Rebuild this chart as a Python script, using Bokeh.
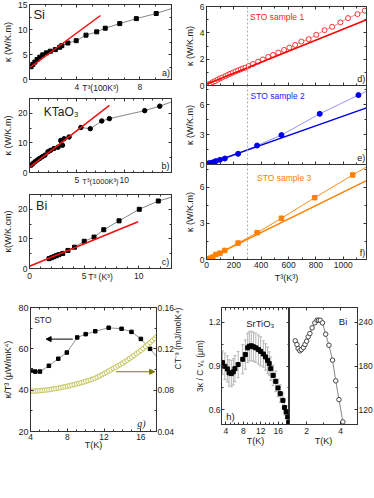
import math
from bokeh.plotting import figure
from bokeh.layouts import row, column
from bokeh.models import (Range1d, LinearAxis, FixedTicker, Label, Span, Arrow,
                          NormalHead, ColumnDataSource, Whisker, TeeHead, CustomLabelingPolicy)
from bokeh.embed import file_html
from bokeh.resources import INLINE

FONT = "Liberation Sans"

# ---------------- data ----------------
si_T3 = [1.10, 1.21, 1.34, 1.48, 1.65, 1.84, 2.07, 2.32, 2.64, 2.91, 3.05, 3.43, 3.96, 4.58, 5.26, 5.80, 6.72, 7.77, 9.03, 10.6]
si_kappa = [2.56, 3.02, 3.48, 4.00, 4.47, 4.93, 5.33, 5.66, 5.98, 6.45, 6.77, 7.30, 7.76, 8.87, 9.53, 10.26, 11.18, 12.17, 13.20, 14.8]
si_fit_x = [0.95, 5.5]
si_fit_y = [2.2, 12.8]

kto_T3 = [0.18, 0.35, 0.57, 0.82, 1.06, 1.35, 1.63, 1.95, 2.23, 2.59, 3.01, 3.30, 3.48, 3.65, 4.18, 5.43, 6.42, 7.63, 8.44, 12.17, 13.76, 16.5]
kto_kappa = [2.47, 3.0, 3.6, 4.2, 4.74, 5.3, 5.85, 7.0, 7.5, 8.1, 8.55, 10.8, 9.2, 11.4, 12.0, 15.2, 14.8, 17.4, 18.2, 20.9, 22.4, 25.6]
kto_fit_x = [0.07, 8.44]
kto_fit_y = [1.9, 22.7]

bi_T3 = [1.79, 2.03, 2.24, 2.45, 2.69, 3.04, 3.52, 4.12, 5.01, 5.91, 6.80, 8.20, 10.05, 11.79, 13.5]
bi_kappa = [3.33, 3.67, 4.0, 4.33, 4.67, 5.1, 6.1, 7.2, 9.2, 10.6, 13.1, 16.1, 20.0, 22.8, 24.6]
bi_fit_x = [0.0, 9.94]
bi_fit_y = [0.78, 15.8]

sto1_T3 = [11, 30, 46, 62, 81, 99, 115, 139, 157, 173, 192, 212, 231, 250, 266, 285, 308, 340, 377, 412, 451, 486, 525, 567, 606, 648, 694, 747, 803, 863, 919, 979, 1035, 1104, 1157]
sto1_kappa = [0.08, 0.15, 0.26, 0.33, 0.44, 0.54, 0.61, 0.72, 0.82, 0.89, 0.97, 1.07, 1.15, 1.22, 1.30, 1.35, 1.48, 1.63, 1.81, 1.98, 2.17, 2.32, 2.50, 2.70, 2.88, 3.08, 3.34, 3.52, 3.85, 4.20, 4.46, 4.79, 5.12, 5.42, 5.68]
sto1_fit_x = [0, 1170]
sto1_fit_y = [0.1, 5.0]

sto2_T3 = [11, 23, 39, 53, 69, 99, 134, 231, 370, 548, 828, 1111, 1200]
sto2_kappa = [0.10, 0.14, 0.17, 0.24, 0.34, 0.47, 0.60, 1.07, 1.90, 2.94, 5.07, 6.94, 7.53]
sto2_fit_x = [0, 1170]
sto2_fit_y = [0.0, 5.67]

sto3_T3 = [11, 28, 46, 69, 99, 134, 231, 370, 548, 791, 1069, 1200]
sto3_kappa = [0.06, 0.11, 0.20, 0.42, 0.53, 0.75, 1.37, 2.23, 3.43, 5.14, 7.03, 7.9]
sto3_fit_x = [0, 1170]
sto3_fit_y = [0.0, 6.56]

g_T = [4.07, 4.52, 5.03, 6.0, 7.02, 7.95, 9.08, 10.0, 11.04, 12.5, 13.9, 14.98, 16.0, 17.0, 18.2]
g_kT3 = [49.5, 49.0, 49.0, 51.8, 55.2, 58.2, 65.5, 67.1, 68.5, 70.2, 69.7, 68.2, 64.8, 60.0, 53.7]

g_T2 = [4.00, 4.25, 4.50, 4.75, 5.00, 5.25, 5.50, 5.75, 6.00, 6.25, 6.50, 6.75, 7.00, 7.25,
        7.50, 7.75, 8.00, 8.25, 8.50, 8.75, 9.00, 9.25, 9.50, 9.75, 10.00, 10.25, 10.50, 10.75,
        11.00, 11.25, 11.50, 11.75, 12.00, 12.25, 12.50, 12.75, 13.00, 13.25, 13.50, 13.75,
        14.00, 14.25, 14.50, 14.75, 15.00, 15.25, 15.50, 15.75, 16.00, 16.25, 16.50, 16.75,
        17.00, 17.25, 17.50, 17.75]
g_CT3 = [0.0790, 0.0791, 0.0792, 0.0794, 0.0795, 0.0797, 0.0800, 0.0802, 0.0805, 0.0809,
         0.0812, 0.0816, 0.0820, 0.0824, 0.0829, 0.0833, 0.0838, 0.0843, 0.0849, 0.0854,
         0.0860, 0.0866, 0.0872, 0.0878, 0.0885, 0.0892, 0.0899, 0.0907, 0.0915, 0.0925,
         0.0936, 0.0948, 0.0960, 0.0972, 0.0985, 0.0997, 0.1010, 0.1022, 0.1035, 0.1047,
         0.1060, 0.1075, 0.1090, 0.1105, 0.1120, 0.1136, 0.1152, 0.1168, 0.1185, 0.1203,
         0.1222, 0.1241, 0.1260, 0.1280, 0.1300, 0.1320]

h_T = [3.22, 3.76, 4.35, 4.73, 5.25, 5.70, 6.08, 6.82, 7.87, 8.47, 9.00, 9.38, 9.83, 10.35, 10.87, 11.47,
       11.99, 12.60, 13.10, 13.56, 13.94, 14.30, 14.84, 15.44, 15.96, 16.48, 17.09, 17.47, 17.83, 18.20, 18.40]
h_val = [0.923, 0.898, 0.880, 0.853, 0.848, 0.860, 0.882, 0.910, 0.946, 0.978, 1.024, 1.035, 1.038, 1.031,
         1.024, 1.012, 1.000, 0.982, 0.962, 0.939, 0.917, 0.882, 0.836, 0.795, 0.750, 0.711, 0.665,
         0.616, 0.586, 0.551, 0.513]
h_err = [0.08, 0.09, 0.09, 0.09, 0.09, 0.09, 0.09, 0.09, 0.10, 0.10, 0.10, 0.10, 0.10, 0.10, 0.10, 0.10,
         0.10, 0.09, 0.09, 0.09, 0.08, 0.08, 0.07, 0.07, 0.06, 0.06, 0.05, 0.05, 0.04, 0.04, 0.03]

hb_T = [1.34, 1.44, 1.51, 1.61, 1.70, 1.82, 1.91, 2.01, 2.10, 2.20, 2.33, 2.49, 2.62, 2.71, 2.81, 2.94,
        3.13, 3.32, 3.53, 3.72, 3.91, 4.14, 4.40]
hb_val = [214.4, 209.4, 203.9, 200.8, 202.5, 205.3, 209.4, 213.9, 219.9, 224.4, 232.2, 239.0, 242.6,
          242.6, 242.6, 239.0, 223.5, 208.4, 188.0, 159.7, 134.0, 103.6, 70.0]

# ---------------- helpers ----------------
AX = "#333333"
TXT = "#222222"
HIDE = CustomLabelingPolicy(code="for (const i of indices) indices.unset(i); return indices")


def mkfig(xr, yr, fw, fh, bl, br, bt, bb, **kw):
    p = figure(x_range=Range1d(*xr), y_range=Range1d(*yr), frame_width=fw, frame_height=fh,
               min_border_left=bl, min_border_right=br, min_border_top=bt, min_border_bottom=bb,
               output_backend="svg", toolbar_location=None, **kw)
    p.grid.visible = False
    p.outline_line_color = AX
    p.border_fill_color = "white"
    return p


def style(ax, ticks, minor=(), labels=True, fs="8.5px", standoff=2):
    ax.ticker = FixedTicker(ticks=list(ticks), minor_ticks=list(minor))
    ax.major_tick_in = 3
    ax.major_tick_out = 0
    ax.minor_tick_in = 2
    ax.minor_tick_out = 0
    ax.axis_line_color = AX
    ax.major_tick_line_color = AX
    ax.minor_tick_line_color = AX
    ax.major_label_text_font = FONT
    ax.major_label_text_color = TXT
    ax.axis_label_text_font = FONT
    ax.axis_label_text_font_style = "normal"
    ax.axis_label_text_font_size = "9px"
    ax.axis_label_text_color = TXT
    ax.axis_label_standoff = 2
    if labels:
        ax.major_label_text_font_size = fs
        ax.major_label_standoff = standoff
    else:
        ax.major_label_text_font_size = "0px"
        ax.major_label_standoff = 0
        ax.major_label_policy = HIDE


def add_box(p, xt, xm, yt, ym, top=True, right=True):
    if top:
        a = LinearAxis()
        style(a, xt, xm, labels=False)
        p.add_layout(a, "above")
    if right:
        a = LinearAxis()
        style(a, yt, ym, labels=False)
        p.add_layout(a, "right")


def lab(p, x, y, text, size="9px", align="left", base="middle", xo=0, yo=0, color=TXT,
        style_="normal", font=FONT, y_range_name="default"):
    p.add_layout(Label(x=x, y=y, x_offset=xo, y_offset=yo, text=text, text_font=font,
                       text_font_size=size, text_align=align, text_baseline=base,
                       text_color=color, text_font_style=style_, y_range_name=y_range_name))


# ---------------- panel a (Si) ----------------
pa = mkfig((1, 10), (0, 15), 142, 75, 22, 10, 4, 13)
style(pa.xaxis[0], [4, 8], [2, 3, 5, 6, 7, 9, 10], standoff=4)
pa.xaxis[0].axis_label = "T³(100K³)"
pa.xaxis[0].axis_label_text_font_size = "8.5px"
pa.xaxis[0].axis_label_standoff = -10
style(pa.yaxis[0], [0, 5, 10, 15], [2.5, 7.5, 12.5])
pa.yaxis[0].axis_label = "κ (W/K.m)"
add_box(pa, [4, 8], [2, 3, 5, 6, 7, 9, 10], [0, 5, 10, 15], [2.5, 7.5, 12.5])
pa.line(si_T3, si_kappa, line_color="#666666", line_width=0.8)
pa.scatter(si_T3, si_kappa, marker="square", size=4, color="black")
pa.line(si_fit_x, si_fit_y, line_color="#ee1111", line_width=1.5)
lab(pa, 1.25, 15, "Si", size="13px", base="top", yo=-2)
lab(pa, 9.9, 0, "a)", align="right", base="bottom", yo=2)

# ---------------- panel b (KTaO3) ----------------
pb = mkfig((0, 15), (0, 25), 142, 74, 22, 10, 3, 13)
style(pb.xaxis[0], [5, 10], [1, 2, 3, 4, 6, 7, 8, 9, 11, 12, 13, 14, 15], standoff=4)
pb.xaxis[0].axis_label = "T³(1000K³)"
pb.xaxis[0].axis_label_text_font_size = "7.5px"
pb.xaxis[0].axis_label_standoff = -9
style(pb.yaxis[0], [0, 10, 20], [5, 15, 25])
pb.yaxis[0].axis_label = "κ (W/K.m)"
add_box(pb, [5, 10], [1, 2, 3, 4, 6, 7, 8, 9, 11, 12, 13, 14, 15], [0, 10, 20], [5, 15, 25])
pb.line(kto_T3, kto_kappa, line_color="#666666", line_width=0.8)
pb.scatter(kto_T3, kto_kappa, marker="circle", size=4.5, color="black")
pb.line(kto_fit_x, kto_fit_y, line_color="#ee1111", line_width=1.5)
lab(pb, 1.5, 25, "KTaO₃", size="12px", base="top", yo=-6)
lab(pb, 14.8, 0, "b)", align="right", base="bottom", yo=2)

# ---------------- panel c (Bi) ----------------
pc = mkfig((0, 13), (0, 25), 142, 74, 22, 10, 6, 20)
style(pc.xaxis[0], [0, 5, 10], [1, 2, 3, 4, 6, 7, 8, 9, 11, 12, 13], standoff=4)
pc.xaxis[0].axis_label = "T³ (K³)"
pc.xaxis[0].axis_label_text_font_size = "8.5px"
pc.xaxis[0].axis_label_standoff = -10
style(pc.yaxis[0], [0, 10, 20], [5, 15, 25])
pc.yaxis[0].axis_label = "κ(W/K.cm)"
add_box(pc, [0, 5, 10], [1, 2, 3, 4, 6, 7, 8, 9, 11, 12, 13], [0, 10, 20], [5, 15, 25])
pc.line(bi_T3, bi_kappa, line_color="#666666", line_width=0.8)
pc.scatter(bi_T3, bi_kappa, marker="square", size=4, color="black")
pc.line(bi_fit_x, bi_fit_y, line_color="#ee1111", line_width=1.5)
lab(pc, 0.6, 25, "Bi", size="12.5px", base="top", yo=-4)
lab(pc, 12.8, 0, "c)", align="right", base="bottom", yo=2)

# ---------------- panels d, e, f (STO) ----------------
XT = [0, 200, 400, 600, 800, 1000]
XM = [100, 300, 500, 700, 900, 1100]
span_kw = dict(location=300, dimension="height", line_color="#b0b0b0", line_dash="2 2", line_width=1)

pd_ = mkfig((0, 1170), (0, 6), 160, 79, 20, 4, 6, 5)
pd_.margin = (0, 0, -5, 0)
style(pd_.xaxis[0], XT, XM, labels=False)
style(pd_.yaxis[0], [0, 2, 4, 6], [1, 3, 5])
pd_.yaxis[0].axis_label = "κ (W/K.m)"
add_box(pd_, XT, XM, [0, 2, 4, 6], [1, 3, 5])
pd_.add_layout(Span(**span_kw))
pd_.line(sto1_T3, sto1_kappa, line_color="#ff7070", line_width=0.8)
pd_.scatter(sto1_T3, sto1_kappa, marker="circle", size=5, fill_color="white", line_color="#ff3030")
pd_.line(sto1_fit_x, sto1_fit_y, line_color="#ff0000", line_width=1.6)
lab(pd_, 318, 6, "STO sample 1", size="8.5px", color="#ff2020", yo=-10)
lab(pd_, 1160, 0, "d)", align="right", base="bottom", yo=2)

pe = mkfig((0, 1170), (0, 7.9), 160, 79, 20, 4, 0, 5)
pe.margin = (0, 0, -5, 0)
pe.border_fill_color = None
style(pe.xaxis[0], XT, XM, labels=False)
style(pe.yaxis[0], [0, 3, 6], [1.5, 4.5, 7.5])
pe.yaxis[0].axis_label = "κ (W/K.m)"
add_box(pe, XT, XM, [0, 3, 6], [1.5, 4.5, 7.5], top=False)
pe.add_layout(Span(**span_kw))
pe.line(sto2_T3, sto2_kappa, line_color="#7777ff", line_width=0.8)
pe.scatter(sto2_T3, sto2_kappa, marker="circle", size=5, color="#0000ee")
pe.line(sto2_fit_x, sto2_fit_y, line_color="#0000dd", line_width=1.4)
lab(pe, 322, 7.9, "STO sample 2", size="8.5px", color="#2020ee", yo=-10)
lab(pe, 1160, 0, "e)", align="right", base="bottom", yo=2)

pf = mkfig((0, 1170), (0, 7.9), 160, 95, 20, 4, 0, 28)
pf.border_fill_color = None
style(pf.xaxis[0], XT, XM)
pf.xaxis[0].axis_label = "T³(K³)"
pf.xaxis[0].axis_label_standoff = 2
style(pf.yaxis[0], [0, 3, 6], [1.5, 4.5, 7.5])
pf.yaxis[0].axis_label = "κ (W/K.m)"
add_box(pf, XT, XM, [0, 3, 6], [1.5, 4.5, 7.5], top=False)
pf.add_layout(Span(**span_kw))
pf.line(sto3_T3, sto3_kappa, line_color="#ff8c1a", line_width=1)
pf.scatter(sto3_T3, sto3_kappa, marker="square", size=4.5, color="#ff8000")
pf.line(sto3_fit_x, sto3_fit_y, line_color="#ff8000", line_width=1.4)
lab(pf, 370, 7.9, "STO sample 3", size="8.5px", color="#ff8000", yo=-13)
lab(pf, 1160, 0, "f)", align="right", base="bottom", yo=2)

# ---------------- panel g ----------------
pg = mkfig((4, 17.7), (20, 80), 126, 124, 22, 30, 16, 22)
pg.extra_y_ranges = {"right": Range1d(0.04, 0.16)}
style(pg.xaxis[0], [4, 8, 12, 16], [5, 6, 7, 9, 10, 11, 13, 14, 15, 17])
pg.xaxis[0].axis_label = "T(K)"
pg.xaxis[0].axis_label_standoff = -3
style(pg.yaxis[0], [20, 40, 60, 80], [30, 50, 70], fs="9px")
pg.yaxis[0].axis_label = "κ/T³ (μW/mK⁴)"
ra = LinearAxis(y_range_name="right")
style(ra, [0.04, 0.08, 0.12, 0.16], [0.06, 0.10, 0.14], fs="8.5px", standoff=1)
ra.axis_label = "CT⁻³ (mJ/molK⁴)"
ra.axis_label_text_font_size = "8.5px"
ra.axis_label_standoff = 1
if "axis_label_orientation" in ra.properties():
    ra.axis_label_orientation = math.pi / 2
pg.add_layout(ra, "right")
ta = LinearAxis()
style(ta, [4, 8, 12, 16], [5, 6, 7, 9, 10, 11, 13, 14, 15, 17], labels=False)
pg.add_layout(ta, "above")
pg.line(g_T, g_kT3, line_color="#777777", line_width=0.8)
pg.scatter(g_T, g_kT3, marker="square", size=3.5, color="black")
pg.scatter(g_T2, g_CT3, marker="circle", size=4.5, fill_color="white", line_color="#c4c45a",
           y_range_name="right")
pg.add_layout(Arrow(end=NormalHead(size=5, fill_color="black", line_color="black"),
                    x_start=8.6, y_start=64.7, x_end=5.7, y_end=64.7, line_color="black", line_width=1))
pg.add_layout(Arrow(end=NormalHead(size=5, fill_color="#7a7a00", line_color="#7a7a00"),
                    x_start=13.3, y_start=0.0978, x_end=17.5, y_end=0.0978, line_color="#7a7a00",
                    line_width=1.2, y_range_name="right"))
lab(pg, 4.4, 80, "STO", size="8.5px", yo=-12)
lab(pg, 16.5, 20, "g)", size="10px", align="right", base="bottom", yo=3, style_="italic",
    font="Liberation Serif")

# ---------------- panel h (SrTiO3 | Bi) ----------------
ph1 = mkfig((3, 18.6), (0.5, 1.3), 68, 117, 28, 0, 19, 22)
style(ph1.xaxis[0], [4, 8, 12, 16], [5, 6, 7, 9, 10, 11, 13, 14, 15, 17, 18], standoff=3)
ph1.xaxis[0].axis_label = "T(K)"
ph1.xaxis[0].axis_label_standoff = -1
style(ph1.yaxis[0], [0.6, 0.9, 1.2], [0.75, 1.05], fs="8.5px", standoff=1)
ph1.yaxis[0].axis_label = "3κ / C vₛ (μm)"
ph1.yaxis[0].axis_label_text_font_size = "8.5px"
ph1.yaxis[0].axis_label_standoff = 1
add_box(ph1, [4, 8, 12, 16], [5, 6, 7, 9, 10, 11, 13, 14, 15, 17, 18], [0.6, 0.9, 1.2], [0.75, 1.05])
hsrc = ColumnDataSource(data=dict(x=h_T, y=h_val,
                                  up=[v + e for v, e in zip(h_val, h_err)],
                                  lo=[v - e for v, e in zip(h_val, h_err)]))
ph1.add_layout(Whisker(source=hsrc, base="x", upper="up", lower="lo", line_color="#b5b5b5",
                       upper_head=TeeHead(size=3, line_color="#b5b5b5"),
                       lower_head=TeeHead(size=3, line_color="#b5b5b5")))
ph1.scatter("x", "y", source=hsrc, marker="square", size=4, color="black")
lab(ph1, 11.9, 1.3, "SrTiO₃", size="9.5px", align="center", yo=-16)
lab(ph1, 4.1, 0.5, "h)", size="9.5px", base="bottom", yo=3)

ph2 = mkfig((1, 5), (100, 260), 68, 117, 0, 16, 19, 22, y_axis_location=None)
style(ph2.xaxis[0], [2, 4], [1, 3, 5], standoff=3)
ph2.xaxis[0].axis_label = "T(K)"
ph2.xaxis[0].axis_label_standoff = -1
ta2 = LinearAxis()
style(ta2, [2, 4], [1, 3, 5], labels=False)
ph2.add_layout(ta2, "above")
ra2 = LinearAxis()
style(ra2, [120, 180, 240], [150, 210], fs="8.5px", standoff=1)
ph2.add_layout(ra2, "right")
ph2.line(hb_T, hb_val, line_color="#666666", line_width=0.8)
ph2.scatter(hb_T, hb_val, marker="circle", size=4.5, fill_color="white", line_color="#444444")
lab(ph2, 4.15, 260, "Bi", size="9.5px", align="center", yo=-14)

layout = column(
    row(column(pa, pb, pc), column(pd_, pe, pf)),
    row(pg, ph1, ph2),
)

open("out.html", "w").write(file_html(layout, INLINE))
